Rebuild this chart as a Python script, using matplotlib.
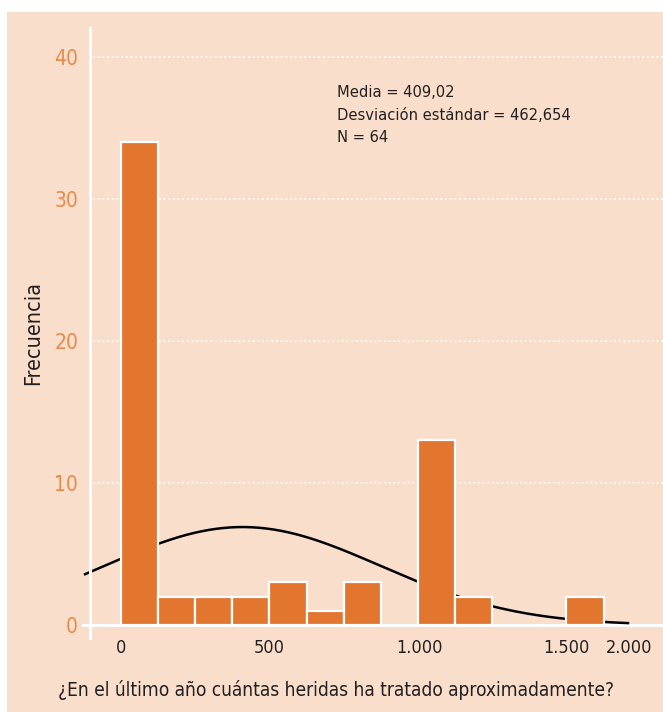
import numpy as np
import matplotlib
matplotlib.use("Agg")
import matplotlib.pyplot as plt
from matplotlib.patches import Rectangle

# histogram data (bin width 125)
bin_edges = [0, 125, 250, 375, 500, 625, 750, 875, 1000, 1125, 1250, 1375, 1500, 1625]
counts = [34, 2, 2, 2, 3, 1, 3, 0, 13, 2, 0, 0, 2]

mean_val = 409.02
std_val = 462.654
n_obs = 64

# tick labels as placed on the original chart
xtick_pos = [0, 500, 1005, 1500, 1710]
xtick_labels = ["0", "500", "1.000", "1.500", "2.000"]
ytick_pos = [0, 10, 20, 30, 40]

peach = "#f9dfcb"
bar_color = "#e2762f"
tick_orange = "#ea8a4a"
dark = "#231f20"

plt.rcParams["font.family"] = ["DejaVu Sans"]
plt.rcParams["font.stretch"] = "condensed"

fig = plt.figure(figsize=(6.63, 7.12), dpi=100)
fig.patch.set_facecolor("white")
fig.add_artist(Rectangle((7 / 663, 0), 1, (712 - 12) / 712,
                         transform=fig.transFigure, facecolor=peach,
                         edgecolor="none", zorder=0))

ax = fig.add_axes([90 / 663, 74 / 712, 573 / 663, 610 / 712])
ax.set_facecolor("none")

# normal curve
bw = bin_edges[1] - bin_edges[0]
xs = np.linspace(-121, 1707, 300)
ys = n_obs * bw / (std_val * np.sqrt(2 * np.pi)) * np.exp(-0.5 * ((xs - mean_val) / std_val) ** 2)
ax.plot(xs, ys, color="black", lw=1.8, zorder=2, clip_on=False)

lefts = np.array(bin_edges[:-1])
heights = np.array(counts)
mask = heights > 0
ax.bar(lefts[mask], heights[mask], width=bw, align="edge", color=bar_color,
       edgecolor="white", linewidth=1.6, zorder=3)

ax.set_xlim(-104.4, 1825)
ax.set_ylim(-0.915, 42.04)

for y in ytick_pos[1:]:
    ax.axhline(y, xmin=0.005, color="white", lw=1.3, ls=(0, (1, 1.6)), zorder=1)
ax.axhline(0, xmin=-0.012, color="white", lw=2.2, zorder=1, clip_on=False)

for s in ["top", "right", "bottom"]:
    ax.spines[s].set_visible(False)
ax.spines["left"].set_color("white")
ax.spines["left"].set_linewidth(2.2)

ax.set_yticks(ytick_pos)
ax.set_yticklabels([str(v) for v in ytick_pos], color=tick_orange, fontsize=15)
ax.set_xticks(xtick_pos)
ax.set_xticklabels(xtick_labels, color=dark, fontsize=13)
ax.tick_params(axis="both", length=0)
ax.tick_params(axis="y", pad=8.6)
ax.tick_params(axis="x", pad=1)

ax.set_ylabel("Frecuencia", color=dark, fontsize=15.5)
ax.yaxis.set_label_coords((43 - 90) / 573, 0.5)
ax.set_xlabel("¿En el último año cuántas heridas ha tratado aproximadamente?",
              color=dark, fontsize=13.7)
ax.xaxis.set_label_coords((336 - 90) / 573, -(690 - 638) / 610)
ax.xaxis.label.set_va("center")

ax.text(727, 38.0, "Media = 409,02\nDesviación estándar = 462,654\nN = 64",
        color=dark, fontsize=11.8, va="top", ha="left", linespacing=1.62)

fig.savefig("out.png", dpi=100, facecolor=fig.get_facecolor())
